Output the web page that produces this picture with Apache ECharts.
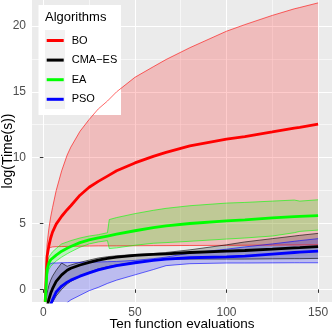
<!DOCTYPE html>
<html>
<head>
<meta charset="utf-8">
<style>
  html, body { margin: 0; padding: 0; background: #fff; }
  #chart { width: 332px; height: 332px; }
</style>
<script src="https://cdn.jsdelivr.net/npm/echarts@6/dist/echarts.min.js"></script>
</head>
<body>
<div id="chart"></div>
<script>
// evaluation points (x) shared by every series
var evals = [1, 2, 3, 4, 5, 7, 10, 13, 15, 20, 25, 30, 35, 36, 40, 50, 60, 67, 80, 100, 110, 125, 137, 140, 150];

var boMean  = [-0.95, 2.5, 3.3, 3.9, 4.35, 4.95, 5.55, 6.05, 6.35, 7.15, 7.75, 8.2, 8.6, 8.68, 9.0, 9.6, 10.1, 10.4, 10.9, 11.4, 11.6, 11.95, 12.25, 12.3, 12.55];
var boUpper = [-0.95, 3.4, 4.6, 5.5, 6.2, 7.5, 9.0, 10.2, 10.8, 12.0, 12.9, 13.7, 14.3, 14.45, 15.0, 16.1, 16.9, 17.45, 18.35, 19.6, 20.1, 20.8, 21.3, 21.4, 21.75];
var boLower = [-0.95, 2.4, 3.15, 3.2, 3.22, 3.24, 3.25, 3.26, 3.27, 3.28, 3.29, 3.3, 3.3, 3.3, 3.3, 3.31, 3.32, 3.32, 3.33, 3.34, 3.35, 3.36, 3.37, 3.37, 3.38];

var cmaMean  = [-2.5, -1.4, -0.75, -0.3, 0.05, 0.6, 1.1, 1.45, 1.6, 1.85, 2.05, 2.22, 2.35, 2.37, 2.45, 2.58, 2.66, 2.7, 2.8, 2.9, 2.95, 3.05, 3.15, 3.17, 3.24];
var cmaUpper = [-1.5, -0.3, 0.3, 0.7, 1.0, 1.45, 2.0, 1.75, 1.85, 2.05, 2.22, 2.38, 2.48, 2.5, 2.55, 2.65, 2.72, 2.8, 3.0, 3.38, 3.6, 3.85, 4.05, 4.1, 4.25];
var cmaLower = [-3.5, -2.5, -1.8, -1.4, -1.0, -0.5, 0.0, 0.4, 0.6, 1.0, 1.3, 1.55, 1.72, 1.75, 1.85, 2.05, 2.2, 2.28, 2.3, 2.3, 2.3, 2.32, 2.33, 2.33, 2.35];

var eaMean  = [-0.95, 1.5, 2.0, 2.25, 2.4, 2.6, 2.9, 3.12, 3.25, 3.55, 3.75, 3.9, 4.05, 4.07, 4.2, 4.45, 4.68, 4.82, 5.0, 5.2, 5.28, 5.42, 5.52, 5.54, 5.6];
var eaUpper = [-0.95, 2.0, 2.45, 2.65, 2.85, 3.1, 3.45, 3.6, 3.7, 3.9, 4.05, 4.15, 4.3, 5.3, 5.45, 5.75, 6.0, 6.15, 6.35, 6.55, 6.6, 6.7, 6.78, 6.7, 6.8];
var eaLower = [-0.95, 1.0, 1.5, 1.75, 1.9, 2.15, 2.45, 2.7, 2.85, 3.2, 3.45, 3.6, 3.7, 3.1, 3.15, 3.35, 3.5, 3.55, 3.65, 3.82, 3.9, 4.05, 4.3, 4.4, 4.5];

var psoMean  = [-3.0, -2.2, -1.6, -1.15, -0.8, -0.2, 0.25, 0.55, 0.7, 1.0, 1.25, 1.48, 1.65, 1.68, 1.8, 2.02, 2.2, 2.3, 2.4, 2.47, 2.53, 2.68, 2.8, 2.83, 2.91];
var psoUpper = [-0.95, 1.2, 1.9, 1.97, 2.0, 2.0, 2.02, 2.03, 2.04, 2.05, 2.07, 2.08, 2.1, 2.1, 2.12, 2.2, 2.33, 2.45, 2.75, 3.05, 3.22, 3.45, 3.65, 3.7, 3.85];
var psoLower = [-5.0, -4.5, -4.0, -3.6, -3.2, -2.6, -1.8, -1.0, -0.8, -0.45, -0.1, 0.15, 0.45, 0.5, 0.7, 1.1, 1.5, 1.8, 1.95, 2.0, 2.0, 2.01, 2.02, 2.02, 2.02];

var xTicks = [0, 50, 100, 150];
var yTicks = [0, 5, 10, 15, 20];
var xMinor = [25, 75, 125];
var yMinor = [2.5, 7.5, 12.5, 17.5];

var FONT = 'Liberation Sans, Arial, sans-serif';

var algos = [
  {name: 'BO', color: '#FF0000', fill: 'rgba(255,0,0,0.2)', mean: boMean, upper: boUpper, lower: boLower},
  {name: 'CMA\u2212ES', color: '#000000', fill: 'rgba(0,0,0,0.2)', mean: cmaMean, upper: cmaUpper, lower: cmaLower},
  {name: 'EA', color: '#00FF00', fill: 'rgba(0,255,0,0.2)', mean: eaMean, upper: eaUpper, lower: eaLower},
  {name: 'PSO', color: '#0000FF', fill: 'rgba(0,0,255,0.2)', mean: psoMean, upper: psoUpper, lower: psoLower}
];

var pairs = function (arr) {
  return evals.map(function (x, i) { return [x, arr[i]]; });
};

var series = [];
// minor grid lines (under everything)
series.push({
  type: 'line', name: 'minor grid', data: [], silent: true,
  markLine: {
    silent: true, symbol: 'none', z: 1, animation: false,
    label: {show: false},
    lineStyle: {color: '#ffffff', width: 0.6, type: 'solid'},
    emphasis: {disabled: true},
    data: xMinor.map(function (v) { return {xAxis: v}; })
      .concat(yMinor.map(function (v) { return {yAxis: v}; }))
  }
});
// ribbons: polygon upper -> reversed lower, positioned with api.coord
algos.forEach(function (a) {
  series.push({
    type: 'custom', name: a.name + ' band', coordinateSystem: 'cartesian2d',
    silent: true, clip: true,
    data: pairs(a.mean).slice(0, 1),
    renderItem: function (params, api) {
      var pts = [];
      for (var i = 0; i < evals.length; i++) pts.push(api.coord([evals[i], a.upper[i]]));
      for (var j = evals.length - 1; j >= 0; j--) pts.push(api.coord([evals[j], a.lower[j]]));
      return {type: 'polygon', shape: {points: pts}, style: {fill: a.fill}};
    }
  });
});
// ribbon edges
algos.forEach(function (a) {
  [a.upper, a.lower].forEach(function (arr) {
    series.push({
      type: 'line', name: a.name + ' edge', data: pairs(arr), symbol: 'none', silent: true,
      lineStyle: {color: a.color, width: 0.6}
    });
  });
});
// means
algos.forEach(function (a) {
  series.push({
    type: 'line', name: a.name, data: pairs(a.mean), symbol: 'none', silent: true,
    color: a.color, lineStyle: {color: a.color, width: 2.8}
  });
});

var chart = echarts.init(document.getElementById('chart'));
chart.setOption({
  animation: false,
  textStyle: {fontFamily: FONT},
  grid: {left: 32, right: 0, top: 0, bottom: 30, containLabel: false, outerBoundsMode: 'none',
    show: true, backgroundColor: '#EBEBEB', borderWidth: 0},
  xAxis: {
    type: 'value', min: -6.2, max: 157.6, splitNumber: 3,
    name: 'Ten function evaluations', nameLocation: 'middle', nameGap: 15.5, nameMoveOverlap: false,
    nameTextStyle: {color: '#000', fontSize: 13.5, fontFamily: FONT},
    axisLine: {show: false},
    axisTick: {show: true, length: 3.5, customValues: xTicks, lineStyle: {color: '#333333', width: 1}},
    axisLabel: {customValues: xTicks, color: '#4D4D4D', fontSize: 12, margin: 5, fontFamily: FONT},
    splitLine: {show: true, lineStyle: {color: '#ffffff', width: 1}}
  },
  yAxis: {
    type: 'value', min: -0.96, max: 21.97, splitNumber: 5,
    name: 'log(Time(s))', nameLocation: 'middle', nameGap: 16.5, nameMoveOverlap: false,
    nameTextStyle: {color: '#000', fontSize: 14, fontFamily: FONT},
    axisLine: {show: false},
    axisTick: {show: true, length: 3.5, customValues: yTicks, lineStyle: {color: '#333333', width: 1}},
    axisLabel: {customValues: yTicks, color: '#4D4D4D', fontSize: 12, margin: 6, fontFamily: FONT},
    splitLine: {show: true, lineStyle: {color: '#ffffff', width: 1}}
  },
  legend: {
    data: algos.map(function (a) { return a.name; }),
    orient: 'vertical', left: 46.7, top: 35, padding: 0, z: 6,
    itemWidth: 17, itemHeight: 3, itemGap: 8.6, icon: 'rect',
    selectedMode: false,
    textStyle: {color: '#000', fontSize: 11, fontFamily: FONT, padding: [0, 0, 0, 3]}
  },
  graphic: [
    {type: 'rect', z: 3, silent: true, shape: {x: 38.5, y: 5, width: 82.5, height: 110}, style: {fill: '#ffffff'}},
    {type: 'rect', z: 4, silent: true, shape: {x: 45, y: 30, width: 20, height: 79}, style: {fill: '#F2F2F2'}},
    {type: 'text', z: 4, silent: true, x: 45, y: 17.5,
      style: {text: 'Algorithms', fill: '#000', fontSize: 13, fontFamily: FONT, verticalAlign: 'middle'}}
  ],
  series: series
});
window.onresize = chart.resize;
</script>
</body>
</html>
